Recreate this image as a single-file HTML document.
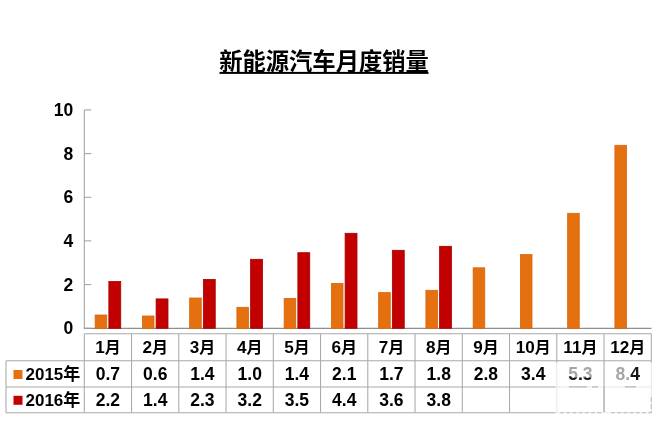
<!DOCTYPE html>
<html lang="zh"><head><meta charset="utf-8"><title>新能源汽车月度销量</title>
<style>
html,body{margin:0;padding:0;background:#fff;}
body{width:666px;height:424px;overflow:hidden;position:relative;font-family:"Liberation Sans","Noto Sans CJK SC",sans-serif;}
svg{position:absolute;left:0;top:0;display:block;}
text{font-family:"Liberation Sans","Noto Sans CJK SC",sans-serif;font-weight:bold;fill:#000;}
.t{font-size:17.5px;text-anchor:middle;}
.ax{font-size:17.5px;text-anchor:end;}
.g{stroke:#a9a9a9;stroke-width:1.05;fill:none;}
</style></head><body>
<svg width="666" height="424" viewBox="0 0 666 424">
<rect width="666" height="424" fill="#fff"/>
<text x="324" y="69.9" style="font-size:23.3px;text-anchor:middle;">新能源汽车月度销量</text>
<rect x="219.5" y="71.9" width="209" height="2" fill="#000"/>
<path class="g" d="M84.3 109.9V328.3" style="stroke:#a0a0a0"/>
<path class="g" d="M83.8 328.3H651.5" style="stroke:#8e8e8e;stroke-width:1.15"/>
<path class="g" d="M84.3 328.3h7" style="stroke:#a0a0a0"/>
<text class="ax" x="73.3" y="334.3">0</text>
<path class="g" d="M84.3 284.6h7" style="stroke:#a0a0a0"/>
<text class="ax" x="73.3" y="290.6">2</text>
<path class="g" d="M84.3 240.9h7" style="stroke:#a0a0a0"/>
<text class="ax" x="73.3" y="246.9">4</text>
<path class="g" d="M84.3 197.3h7" style="stroke:#a0a0a0"/>
<text class="ax" x="73.3" y="203.3">6</text>
<path class="g" d="M84.3 153.6h7" style="stroke:#a0a0a0"/>
<text class="ax" x="73.3" y="159.6">8</text>
<path class="g" d="M84.3 109.9h7" style="stroke:#a0a0a0"/>
<text class="ax" x="73.3" y="115.9">10</text>
<rect x="95.15" y="315.0" width="11.6" height="13.3" fill="#e5700f" stroke="#d9650a" stroke-width="0.8"/>
<rect x="142.40" y="316.0" width="11.6" height="12.3" fill="#e5700f" stroke="#d9650a" stroke-width="0.8"/>
<rect x="189.65" y="298.0" width="11.6" height="30.3" fill="#e5700f" stroke="#d9650a" stroke-width="0.8"/>
<rect x="236.90" y="307.3" width="11.6" height="21.0" fill="#e5700f" stroke="#d9650a" stroke-width="0.8"/>
<rect x="284.15" y="298.4" width="11.6" height="29.9" fill="#e5700f" stroke="#d9650a" stroke-width="0.8"/>
<rect x="331.40" y="283.4" width="11.6" height="44.9" fill="#e5700f" stroke="#d9650a" stroke-width="0.8"/>
<rect x="378.65" y="292.6" width="11.6" height="35.7" fill="#e5700f" stroke="#d9650a" stroke-width="0.8"/>
<rect x="425.90" y="290.3" width="11.6" height="38.0" fill="#e5700f" stroke="#d9650a" stroke-width="0.8"/>
<rect x="473.15" y="267.8" width="11.6" height="60.5" fill="#e5700f" stroke="#d9650a" stroke-width="0.8"/>
<rect x="520.40" y="254.6" width="11.6" height="73.7" fill="#e5700f" stroke="#d9650a" stroke-width="0.8"/>
<rect x="567.65" y="213.3" width="11.6" height="115.0" fill="#e5700f" stroke="#d9650a" stroke-width="0.8"/>
<rect x="614.90" y="145.3" width="11.6" height="183.0" fill="#e5700f" stroke="#d9650a" stroke-width="0.8"/>
<rect x="108.85" y="281.5" width="11.9" height="46.8" fill="#c20000" stroke="#a80000" stroke-width="0.8"/>
<rect x="156.10" y="298.9" width="11.9" height="29.4" fill="#c20000" stroke="#a80000" stroke-width="0.8"/>
<rect x="203.35" y="279.4" width="11.9" height="48.9" fill="#c20000" stroke="#a80000" stroke-width="0.8"/>
<rect x="250.60" y="259.3" width="11.9" height="69.0" fill="#c20000" stroke="#a80000" stroke-width="0.8"/>
<rect x="297.85" y="252.7" width="11.9" height="75.6" fill="#c20000" stroke="#a80000" stroke-width="0.8"/>
<rect x="345.10" y="233.3" width="11.9" height="95.0" fill="#c20000" stroke="#a80000" stroke-width="0.8"/>
<rect x="392.35" y="250.3" width="11.9" height="78.0" fill="#c20000" stroke="#a80000" stroke-width="0.8"/>
<rect x="439.60" y="246.3" width="11.9" height="82.0" fill="#c20000" stroke="#a80000" stroke-width="0.8"/>
<path class="g" d="M84.3 333.8H651.3M6 360.7H651.3M6 386.9H651.3M6 412.7H651.3M6 360.7V412.7"/>
<path class="g" d="M84.30 333.8V412.7"/>
<path class="g" d="M131.55 333.8V412.7"/>
<path class="g" d="M178.80 333.8V412.7"/>
<path class="g" d="M226.05 333.8V412.7"/>
<path class="g" d="M273.30 333.8V412.7"/>
<path class="g" d="M320.55 333.8V412.7"/>
<path class="g" d="M367.80 333.8V412.7"/>
<path class="g" d="M415.05 333.8V412.7"/>
<path class="g" d="M462.30 333.8V412.7"/>
<path class="g" d="M509.55 333.8V412.7"/>
<path class="g" d="M556.80 333.8V412.7"/>
<path class="g" d="M604.05 333.8V412.7"/>
<path class="g" d="M651.30 333.8V412.7"/>
<rect x="555.5" y="362.6" width="100" height="54" fill="#fff" opacity="0.72"/>
<path d="M604.05 362V412" stroke="#b4b4b4" stroke-width="1.1" fill="none"/>
<path d="M604.05 386V412" stroke="#b0b0b0" stroke-width="0.8" fill="none"/>
<path d="M560 412.6H603M611 412.6H652" stroke="#c4c4c4" stroke-width="1.2" stroke-dasharray="4 2.2" fill="none"/>
<path d="M569 386.9H587M592 386.9H598M625 386.9H636" stroke="#b8b8b8" stroke-width="1.2" fill="none"/>
<path d="M651.3 397V412" stroke="#c0c0c0" stroke-width="1.1" stroke-dasharray="5 2" fill="none"/>
<clipPath id="c53"><rect x="565" y="377.4" width="26" height="6"/><rect x="565" y="374.6" width="7.5" height="6"/></clipPath>
<text class="t" x="107.9" y="352.5" style="font-size:17.1px">1<tspan style="font-size:16px">月</tspan></text>
<text class="t" x="107.9" y="380">0.7</text>
<text class="t" x="107.9" y="405.8">2.2</text>
<text class="t" x="155.2" y="352.5" style="font-size:17.1px">2<tspan style="font-size:16px">月</tspan></text>
<text class="t" x="155.2" y="380">0.6</text>
<text class="t" x="155.2" y="405.8">1.4</text>
<text class="t" x="202.4" y="352.5" style="font-size:17.1px">3<tspan style="font-size:16px">月</tspan></text>
<text class="t" x="202.4" y="380">1.4</text>
<text class="t" x="202.4" y="405.8">2.3</text>
<text class="t" x="249.7" y="352.5" style="font-size:17.1px">4<tspan style="font-size:16px">月</tspan></text>
<text class="t" x="249.7" y="380">1.0</text>
<text class="t" x="249.7" y="405.8">3.2</text>
<text class="t" x="296.9" y="352.5" style="font-size:17.1px">5<tspan style="font-size:16px">月</tspan></text>
<text class="t" x="296.9" y="380">1.4</text>
<text class="t" x="296.9" y="405.8">3.5</text>
<text class="t" x="344.2" y="352.5" style="font-size:17.1px">6<tspan style="font-size:16px">月</tspan></text>
<text class="t" x="344.2" y="380">2.1</text>
<text class="t" x="344.2" y="405.8">4.4</text>
<text class="t" x="391.4" y="352.5" style="font-size:17.1px">7<tspan style="font-size:16px">月</tspan></text>
<text class="t" x="391.4" y="380">1.7</text>
<text class="t" x="391.4" y="405.8">3.6</text>
<text class="t" x="438.7" y="352.5" style="font-size:17.1px">8<tspan style="font-size:16px">月</tspan></text>
<text class="t" x="438.7" y="380">1.8</text>
<text class="t" x="438.7" y="405.8">3.8</text>
<text class="t" x="485.9" y="352.5" style="font-size:17.1px">9<tspan style="font-size:16px">月</tspan></text>
<text class="t" x="485.9" y="380">2.8</text>
<text class="t" x="533.2" y="352.5" style="font-size:17.1px">10<tspan style="font-size:16px">月</tspan></text>
<text class="t" x="533.2" y="380">3.4</text>
<text class="t" x="580.4" y="352.5" style="font-size:17.1px">11<tspan style="font-size:16px">月</tspan></text>
<text class="t" x="580.4" y="380" style="fill:#a6a6a6">5.3</text>
<text class="t" x="580.4" y="380" clip-path="url(#c53)" style="fill:#1a1a1a">5.3</text>
<text class="t" x="627.7" y="352.5" style="font-size:17.1px">12<tspan style="font-size:16px">月</tspan></text>
<text class="t" x="627.7" y="380"><tspan style="fill:#a6a6a6">8.</tspan><tspan style="fill:#161616">4</tspan></text>
<rect x="13.5" y="370" width="9" height="9" fill="#e5700f"/>
<rect x="13.5" y="395.8" width="9" height="9" fill="#c20000"/>
<text x="25.5" y="380.2" style="font-size:17px;">2015年</text>
<text x="25.5" y="406" style="font-size:17px;">2016年</text>
</svg>
</body></html>
